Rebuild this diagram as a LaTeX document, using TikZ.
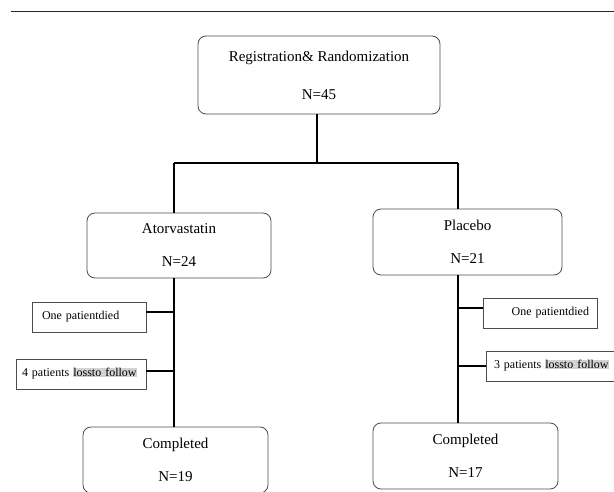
\documentclass[tikz,border=0pt]{standalone}
\usepackage{fontspec}
\setmainfont{Liberation Serif}
\usepackage{tikz}
\usetikzlibrary{positioning}

\begin{document}
\begin{tikzpicture}[x=1pt,y=-1pt,
  group/.style={rectangle,rounded corners=8pt,draw=gray!60!black,line width=0.8pt,align=center,inner sep=0pt,font=\fontsize{15}{18}\selectfont},
  dropout/.style={rectangle,draw=gray!60!black,line width=0.8pt,minimum height=30pt,font=\fontsize{12}{13}\selectfont},
  link/.style={line width=1.7pt,black}
]
\useasboundingbox (0,0) rectangle (614,492);

% rule on top of the page
\draw[line width=0.9pt,gray!30!black] (11,11.7) -- (614,11.7);

% main boxes
\node[group,minimum width=242pt,minimum height=78pt] (reg) at (319,75) {Registration\& Randomization\\[20pt]N=45};
\node[group,minimum width=184pt,minimum height=65pt] (ator) at (179,245.5) {Atorvastatin\\[15pt]N=24};
\node[group,minimum width=189pt,minimum height=66pt] (plac) at (467.5,242) {Placebo\\[15pt]N=21};
\node[group,minimum width=185pt,minimum height=66pt] (compA) at (175.5,460) {Completed\\[15pt]N=19};
\node[group,minimum width=185pt,minimum height=66pt] (compB) at (465.5,456) {Completed\\[15pt]N=17};

% dropouts
\node[dropout,text width=94pt,inner xsep=10pt,align=left] (dieA) at (89,317) {One patientdied};
\node[dropout,text width=118pt,inner xsep=6pt,align=left] (lossA) at (81,374) {4 patients {\fboxsep=0pt\colorbox{gray!35}{lossto follow}}};
\node[dropout,text width=98pt,inner xsep=8pt,align=right] (dieB) at (540,313) {One patientdied};
\node[dropout,text width=118pt,inner xsep=8pt,align=left] (lossB) at (553,366) {3 patients {\fboxsep=0pt\colorbox{gray!35}{lossto follow}}};

% junctions
\coordinate (split) at (317,163);
\coordinate (leftTop) at (174,163);
\coordinate (rightTop) at (458,163);

% randomization
\draw[link] (reg.south -| split) -- (split);
\draw[link] (leftTop) -- (rightTop);
\draw[link] (leftTop) -- (leftTop |- ator.north);
\draw[link] (rightTop) -- (rightTop |- plac.north);

% follow-up
\draw[link] (ator.south -| leftTop) -- (compA.north -| leftTop);
\draw[link] (plac.south -| rightTop) -- (compB.north -| rightTop);
\draw[link] ([yshift=5pt]dieA.east) -- ([yshift=5pt]dieA.east -| leftTop);
\draw[link] ([yshift=3pt]lossA.east) -- ([yshift=3pt]lossA.east -| leftTop);
\draw[link] ([yshift=5pt]dieB.west) -- ([yshift=5pt]dieB.west -| rightTop);
\draw[link] (lossB.west) -- (lossB.west -| rightTop);

\end{tikzpicture}
\end{document}
